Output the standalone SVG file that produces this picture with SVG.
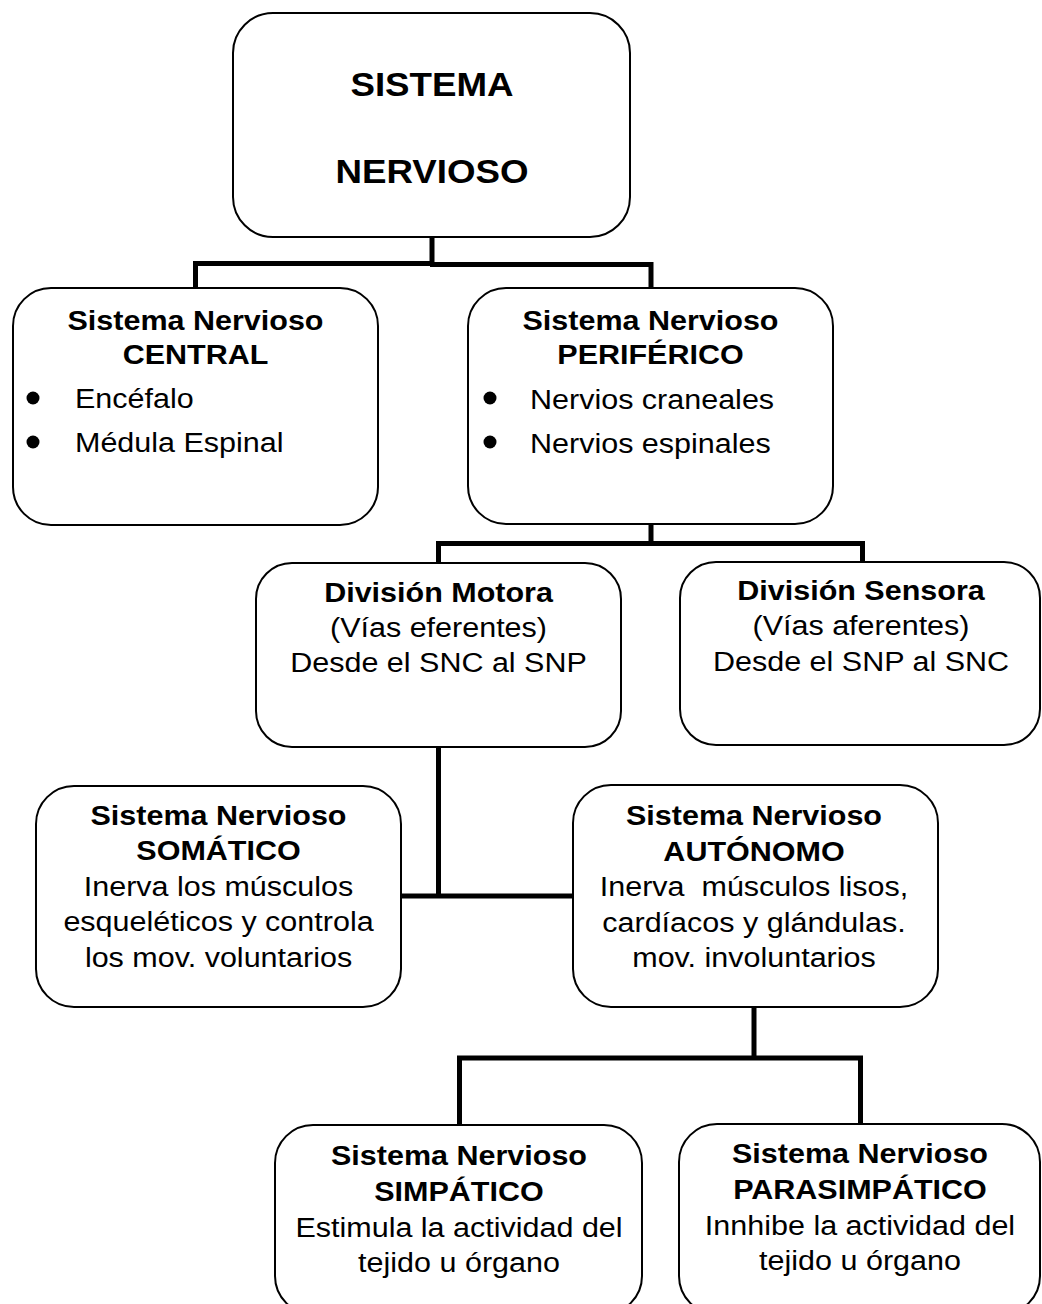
<svg xmlns="http://www.w3.org/2000/svg" width="1042" height="1304" viewBox="0 0 1042 1304">
<style>
.box{fill:#fff;stroke:#000;stroke-width:2}
.conn{fill:none;stroke:#000;stroke-width:5}
text{font-family:"Liberation Sans",Arial,sans-serif;font-size:28px;fill:#000}
.b{font-weight:bold;text-anchor:middle}
.r{text-anchor:middle}
.l{text-anchor:start}
.t{font-weight:bold;font-size:34px;text-anchor:middle}
.dot{fill:#000}
</style>
<rect width="1042" height="1304" fill="#fff"/>
<g id="connectors">
<path class="conn" d="M195.5,288 V263.5 H434 M432,237 V266 M430,264.5 H651 V288"/>
<path class="conn" d="M651,524 V543.5 M438.5,563 V543.5 H862.5 V562"/>
<path class="conn" d="M438.5,747 V896 M401,896 H573"/>
<path class="conn" d="M754,1007 V1058 M459.5,1125 V1058 H860.5 V1124"/>
</g>
<g id="sistema-nervioso">
<rect class="box" x="233" y="13" width="397" height="224" rx="40"/>
<g transform="translate(432 0) scale(1.08 1)">
<text class="t" x="0" y="96">SISTEMA</text>
<text class="t" x="0" y="183">NERVIOSO</text>
</g>
</g>
<g id="snc">
<rect class="box" x="13" y="288" width="365" height="237" rx="38"/>
<g transform="translate(195.5 0) scale(1.09 1)">
<text class="b" x="0" y="330">Sistema Nervioso</text>
<text class="b" x="0" y="364">CENTRAL</text>
</g>
<circle class="dot" cx="33" cy="398" r="6.5"/>
<circle class="dot" cx="33" cy="442" r="6.5"/>
<g transform="translate(75 0) scale(1.09 1)">
<text class="l" x="0" y="408">Encéfalo</text>
<text class="l" x="0" y="452">Médula Espinal</text>
</g>
</g>
<g id="snp">
<rect class="box" x="468" y="288" width="365" height="236" rx="38"/>
<g transform="translate(650.5 0) scale(1.09 1)">
<text class="b" x="0" y="330">Sistema Nervioso</text>
<text class="b" x="0" y="364">PERIFÉRICO</text>
</g>
<circle class="dot" cx="490" cy="398" r="6.5"/>
<circle class="dot" cx="490" cy="442" r="6.5"/>
<g transform="translate(530 0) scale(1.09 1)">
<text class="l" x="0" y="409">Nervios craneales</text>
<text class="l" x="0" y="453">Nervios espinales</text>
</g>
</g>
<g id="division-motora">
<rect class="box" x="256" y="563" width="365" height="184" rx="36"/>
<g transform="translate(438.5 0) scale(1.09 1)">
<text class="b" x="0" y="602">División Motora</text>
<text class="r" x="0" y="637">(Vías eferentes)</text>
<text class="r" x="0" y="672">Desde el SNC al SNP</text>
</g>
</g>
<g id="division-sensora">
<rect class="box" x="680" y="562" width="360" height="183" rx="36"/>
<g transform="translate(861 0) scale(1.09 1)">
<text class="b" x="0" y="600">División Sensora</text>
<text class="r" x="0" y="635">(Vías aferentes)</text>
<text class="r" x="0" y="671">Desde el SNP al SNC</text>
</g>
</g>
<g id="somatico">
<rect class="box" x="36" y="786" width="365" height="221" rx="38"/>
<g transform="translate(218.5 0) scale(1.09 1)">
<text class="b" x="0" y="825">Sistema Nervioso</text>
<text class="b" x="0" y="860">SOMÁTICO</text>
<text class="r" x="0" y="896">Inerva los músculos</text>
<text class="r" x="0" y="931">esqueléticos y controla</text>
<text class="r" x="0" y="967">los mov. voluntarios</text>
</g>
</g>
<g id="autonomo">
<rect class="box" x="573" y="785" width="365" height="222" rx="38"/>
<g transform="translate(754 0) scale(1.09 1)">
<text class="b" x="0" y="825">Sistema Nervioso</text>
<text class="b" x="0" y="861">AUTÓNOMO</text>
<text class="r" x="0" y="896" xml:space="preserve">Inerva  músculos lisos,</text>
<text class="r" x="0" y="932">cardíacos y glándulas.</text>
<text class="r" x="0" y="967">mov. involuntarios</text>
</g>
</g>
<g id="simpatico">
<rect class="box" x="275" y="1125" width="367" height="189" rx="38"/>
<g transform="translate(459 0) scale(1.09 1)">
<text class="b" x="0" y="1165">Sistema Nervioso</text>
<text class="b" x="0" y="1201">SIMPÁTICO</text>
<text class="r" x="0" y="1237">Estimula la actividad del</text>
<text class="r" x="0" y="1272">tejido u órgano</text>
</g>
</g>
<g id="parasimpatico">
<rect class="box" x="679" y="1124" width="361" height="190" rx="38"/>
<g transform="translate(860 0) scale(1.09 1)">
<text class="b" x="0" y="1163">Sistema Nervioso</text>
<text class="b" x="0" y="1199">PARASIMPÁTICO</text>
<text class="r" x="0" y="1235">Innhibe la actividad del</text>
<text class="r" x="0" y="1270">tejido u órgano</text>
</g>
</g>
</svg>
